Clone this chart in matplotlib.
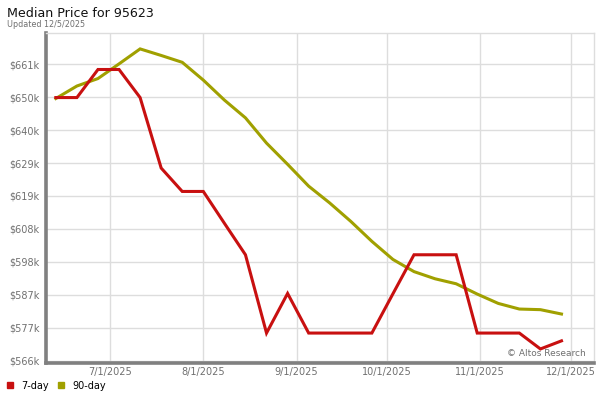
import matplotlib
matplotlib.use("Agg")
import matplotlib.pyplot as plt
import numpy as np
import pandas as pd

# data (weekly, values in $k)
dates = ["2025-06-13", "2025-06-20", "2025-06-27", "2025-07-04", "2025-07-11",
         "2025-07-18", "2025-07-25", "2025-08-01", "2025-08-08", "2025-08-15",
         "2025-08-22", "2025-08-29", "2025-09-05", "2025-09-12", "2025-09-19",
         "2025-09-26", "2025-10-03", "2025-10-10", "2025-10-17", "2025-10-24",
         "2025-10-31", "2025-11-07", "2025-11-14", "2025-11-21", "2025-11-28"]
day7 = [650.3, 650.3, 659.3, 659.3, 650.3, 627.7, 620.2, 620.2, 610.0, 599.9,
        574.8, 587.5, 574.8, 574.8, 574.8, 574.8, 587.4, 599.9, 599.9, 599.9,
        574.8, 574.8, 574.8, 569.7, 572.3]
day90 = [650.0, 654.0, 656.4, 661.1, 665.9, 663.8, 661.6, 655.9, 649.5, 643.8,
         635.7, 628.9, 621.9, 616.5, 610.6, 604.2, 598.4, 594.5, 592.2, 590.6,
         587.3, 584.3, 582.5, 582.3, 580.9]
ytick_labels = ["$566k", "$577k", "$587k", "$598k", "$608k",
                "$619k", "$629k", "$640k", "$650k", "$661k"]
xtick_dates = ["2025-07-01", "2025-08-01", "2025-09-01",
               "2025-10-01", "2025-11-01", "2025-12-01"]
xtick_labels = ["7/1/2025", "8/1/2025", "9/1/2025", "10/1/2025", "11/1/2025", "12/1/2025"]

red = "#c81010"
olive = "#a0a000"

x = pd.to_datetime(dates)

fig = plt.figure(figsize=(6, 4), dpi=100)
ax = fig.add_axes([0.077, 0.0925, 0.913, 0.825])

ax.plot(x, day90, color=olive, lw=2.2, solid_joinstyle="miter", zorder=3)
ax.plot(x, day7, color=red, lw=2.2, solid_joinstyle="miter", zorder=4)

# tick values are evenly spaced, labels rounded
yticks = 566.0 + 10.55 * np.arange(len(ytick_labels))
ax.set_yticks(yticks)
ax.set_yticklabels(ytick_labels)
ax.set_ylim(565.2, 671.0)

ax.set_xticks(pd.to_datetime(xtick_dates))
ax.set_xticklabels(xtick_labels)
ax.set_xlim(x[0] - pd.Timedelta(days=3.2), x[-1] + pd.Timedelta(days=10.8))

ax.grid(True, color="#dddddd", lw=1)
ax.set_axisbelow(True)
ax.tick_params(length=0, labelsize=7, labelcolor="#707070")
ax.tick_params(axis="y", pad=5)
ax.tick_params(axis="x", pad=3)

for s in ["top", "right"]:
    ax.spines[s].set_color("#dddddd")
    ax.spines[s].set_linewidth(1)
for s in ["left", "bottom"]:
    ax.spines[s].set_color("#808080")
    ax.spines[s].set_linewidth(2.6)

ax.text(0.985, 0.015, "\u00a9 Altos Research", transform=ax.transAxes,
        ha="right", va="bottom", fontsize=6.5, color="#707070")

fig.text(0.012, 0.967, "Median Price for 95623", fontsize=9.1, color="#111111",
         ha="left", va="center")
fig.text(0.012, 0.938, "Updated 12/5/2025", fontsize=5.8, color="#707070",
         ha="left", va="center")

# legend
fig.patches.append(plt.Rectangle((0.012, 0.029), 0.01, 0.015, color=red,
                                 transform=fig.transFigure, figure=fig))
fig.text(0.035, 0.036, "7-day", fontsize=7, ha="left", va="center")
fig.patches.append(plt.Rectangle((0.097, 0.029), 0.01, 0.015, color=olive,
                                 transform=fig.transFigure, figure=fig))
fig.text(0.12, 0.036, "90-day", fontsize=7, ha="left", va="center")

fig.savefig("out.png", dpi=100)
